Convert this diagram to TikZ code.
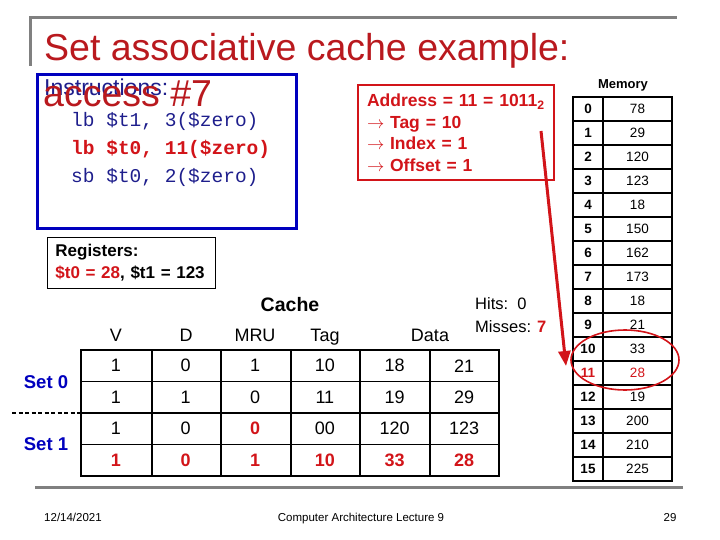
\documentclass[tikz,border=0pt]{standalone}
\usepackage{fontspec}
\setmainfont{Liberation Sans}
\newfontfamily\codefont{Liberation Mono}
\usetikzlibrary{arrows.meta,calc,positioning}
\definecolor{titlered}{RGB}{185,25,30}
\definecolor{hired}{RGB}{210,20,25}
\definecolor{boxblue}{RGB}{0,0,190}
\definecolor{navyink}{RGB}{30,30,140}
\definecolor{framegray}{RGB}{128,128,128}
\newcommand{\hl}[1]{\textcolor{hired}{\bfseries #1}}
\tikzset{
  frame/.style      = {line width=3pt, framegray},
  slidetitle/.style = {anchor=base west, inner sep=0pt, text=titlered,
                       font=\fontsize{37.5}{40}\selectfont},
  codeline/.style   = {anchor=base west, inner sep=0pt, text=navyink,
                       font=\codefont\fontsize{19.5}{22}\selectfont},
  instrbox/.style   = {draw=boxblue, line width=3pt, anchor=north west},
  addrbox/.style    = {draw=hired, line width=2pt, anchor=north west, align=left,
                       inner xsep=9pt, text=hired,
                       font=\fontsize{17.5}{21.5}\selectfont\bfseries},
  regbox/.style     = {draw, line width=0.8pt, anchor=north west, align=left,
                       inner xsep=8pt, font=\fontsize{17}{22}\selectfont\bfseries},
  memgrid/.style    = {line width=2.4pt},
  memidx/.style     = {inner sep=0pt, font=\fontsize{13.5}{15}\selectfont\bfseries},
  memval/.style     = {inner sep=0pt, font=\fontsize{13.5}{15}\selectfont},
  cachegrid/.style  = {line width=1.6pt},
  cacheedge/.style  = {line width=2.6pt},
  cell/.style       = {inner sep=0pt, font=\fontsize{18}{20}\selectfont},
  colhead/.style    = {anchor=base, inner sep=0pt, font=\fontsize{18}{20}\selectfont},
  setlabel/.style   = {inner sep=0pt, text=boxblue, font=\fontsize{18.5}{20}\selectfont\bfseries},
  stat/.style       = {anchor=base west, inner sep=0pt, font=\fontsize{16.5}{18}\selectfont},
  footer/.style     = {anchor=base, inner sep=0pt, font=\fontsize{11.5}{13}\selectfont},
  pointer/.style    = {-{Triangle[length=15pt,width=12pt]}, line width=3pt, hired},
  hilite/.style     = {line width=1.6pt, hired},
}

\begin{document}
\begin{tikzpicture}[x=1pt,y=-1pt]
  \useasboundingbox (0,0) rectangle (720,540);

  % slide frame
  \draw[frame] (30,66) -- (30,18) -- (677,18);
  \draw[frame] (35,487) -- (683,487);
  \node[slidetitle] (title) at (44,61) {Set associative cache example:};

  % instructions
  \node[instrbox, minimum width=259, minimum height=154] (instr) at (36,73) {};
  \node[anchor=base west, inner sep=0pt, text=navyink,
        font=\fontsize{23}{25}\selectfont] (instrlbl) at (44,96) {Instructions:};
  \node[slidetitle] (access) at (43,107) {access \#7};
  \node[codeline] (code1) at (71,127) {lb \$t1, 3(\$zero)};
  \node[codeline, text=hired, font=\codefont\bfseries\fontsize{19.5}{22}\selectfont]
       (code2) at (71,155) {lb \$t0, 11(\$zero)};
  \node[codeline] (code3) at (71,183) {sb \$t0, 2(\$zero)};

  % address breakdown
  \node[addrbox, minimum width=196, minimum height=95, text width=178pt] (addr) at (357,84)
    {Address = 11 = 1011\textsubscript{2}\\
     $\rightarrow$ Tag = 10\\
     $\rightarrow$ Index = 1\\
     $\rightarrow$ Offset = 1};

  % registers
  \node[regbox, minimum width=168, minimum height=51, text width=152pt] (regs) at (47,237)
    {Registers:\\ \textcolor{hired}{\$t0 = 28}, \$t1 = 123};

  % memory
  \node[anchor=base, inner sep=0pt, font=\fontsize{13}{14}\selectfont\bfseries]
       (memlbl) at (623,89) {Memory};
  \draw[memgrid] (573,97) rectangle (672,481);
  \draw[memgrid] (603,97) -- (603,481);
  \foreach \i in {1,...,15}
    \draw[memgrid] (573,97+24*\i) -- (672,97+24*\i);
  \foreach \v/\c [count=\i from 0] in {78/black,29/black,120/black,123/black,18/black,
      150/black,162/black,173/black,18/black,21/black,33/black,28/hired,19/black,
      200/black,210/black,225/black} {
    \node[memidx, text=\c] (mi\i) at (588,109+24*\i) {\i};
    \node[memval, text=\c] (mv\i) at (637.5,109+24*\i) {\v};
  }
  \draw[hilite] (625,360) ellipse [x radius=54, y radius=30];

  \coordinate (addrtip) at ($(addr.north east)+(-14,47)$);
  \coordinate (memhit) at (566,366);
  \draw[pointer] (addrtip) -- (memhit);

  % cache
  \node[anchor=base, inner sep=0pt, font=\fontsize{19.5}{21}\selectfont\bfseries]
       (cachelbl) at (290,311) {Cache};
  \node[colhead] (hV)    at (116,341) {V};
  \node[colhead] (hD)    at (186,341) {D};
  \node[colhead] (hMRU)  at (255,341) {MRU};
  \node[colhead] (hTag)  at (325,341) {Tag};
  \node[colhead] (hData) at (430,341) {Data};

  \foreach \x in {152,221,291,360,430}
    \draw[cachegrid] (\x,350) -- (\x,476);
  \foreach \y in {381.5,444.5}
    \draw[cachegrid] (81,\y) -- (499,\y);
  \draw[cacheedge] (81,413) -- (499,413);
  \draw[cacheedge] (81,350) rectangle (499,476);

  \foreach \r/\cells in {1/{1,0,1,10,18,21},
                         2/{1,1,0,11,19,29},
                         3/{1,0,\hl{0},00,120,123},
                         4/{\hl{1},\hl{0},\hl{1},\hl{10},\hl{33},\hl{28}}}
    \foreach \t [count=\c] in \cells
      \node[cell] (cell-\r-\c) at (81+69.67*\c-34.83, 334.25+31.5*\r) {\t};

  \node[setlabel] (set0) at (46,382.5) {Set 0};
  \node[setlabel] (set1) at (46,444) {Set 1};
  \coordinate (sepL) at (12,413);
  \coordinate (sepR) at (81,413);
  \draw[line width=1.5pt, dash pattern=on 4pt off 2.5pt] (sepL) -- (sepR);

  \node[stat] (hits)   at (475,309) {Hits:\ \ 0};
  \node[stat] (misses) at (475,332) {Misses: \hl{7}};

  % footer
  \node[footer] (date)    at (73,521)  {12/14/2021};
  \node[footer] (lecture) at (361,521) {Computer Architecture Lecture 9};
  \node[footer] (pageno)  at (670,521) {29};
\end{tikzpicture}
\end{document}
